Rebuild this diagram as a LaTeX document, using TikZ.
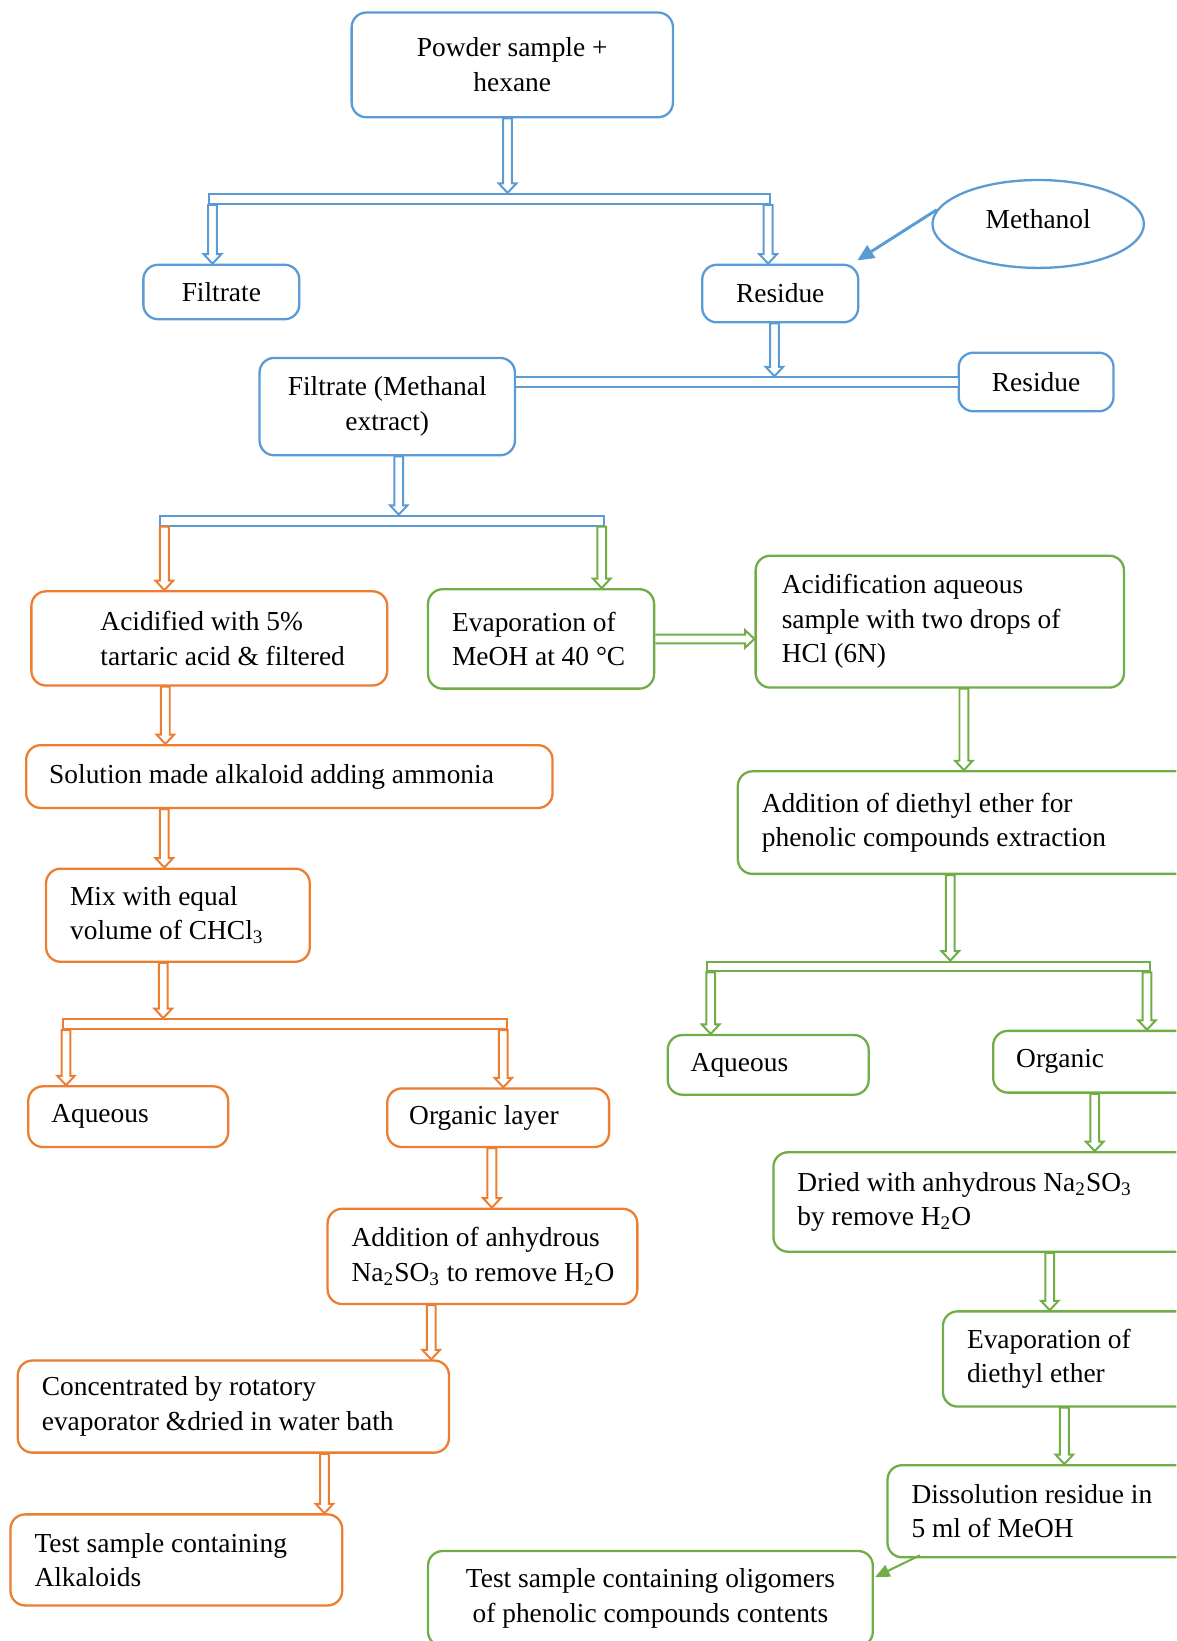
\documentclass[tikz,border=0pt]{standalone}
\usepackage{fontspec}
\setmainfont{Liberation Serif}
\usetikzlibrary{calc,shapes.geometric,arrows.meta}
\definecolor{cblue}{HTML}{5B9BD5}
\definecolor{corange}{HTML}{ED7D31}
\definecolor{cgreen}{HTML}{70AD47}
% hollow block arrow, downward: x and start y from #2, end y from #3
\newcommand\darr[3]{\draw[harr,#1] let \p1=#2, \p2=#3 in
  (\x1-2.1pt,\y1) -- (\x1-2.1pt,\y2+4.5pt) -- (\x1-4.2pt,\y2+4.5pt) -- (\x1,\y2)
  -- (\x1+4.2pt,\y2+4.5pt) -- (\x1+2.1pt,\y2+4.5pt) -- (\x1+2.1pt,\y1) -- cycle;}
% hollow block arrow, rightward: y and start x from #2, end x from #3
\newcommand\rarr[3]{\draw[harr,#1] let \p1=#2, \p2=#3 in
  (\x1,\y1+2.1pt) -- (\x2-4.5pt,\y1+2.1pt) -- (\x2-4.5pt,\y1+4.2pt) -- (\x2,\y1)
  -- (\x2-4.5pt,\y1-4.2pt) -- (\x2-4.5pt,\y1-2.1pt) -- (\x1,\y1-2.1pt);}
% text blocks: left aligned with indent, and centred
\newcommand\lbox[3]{\parbox[c]{#1}{\raggedright\leftskip=#2\relax #3}}
\newcommand\cbox[2]{\parbox[c]{#1}{\centering #2}}
\begin{document}
\begin{tikzpicture}[x=0.5pt,y=-0.5pt,
  every node/.style={font=\fontsize{13.1}{16.5}\selectfont},
  corners/.style n args={4}{minimum width={(#3-#1)*0.5pt}, minimum height={(#4-#2)*0.5pt},
    at={({(#1+#3)/2},{(#2+#4)/2})}, anchor=center},
  box/.style={draw, rounded corners=7pt, line width=1.1pt, inner sep=0pt},
  bar/.style={draw, line width=0.95pt, inner sep=0pt},
  harr/.style={line width=0.95pt, line join=miter},
  dline/.style={line width=0.95pt, double, double distance=3.8pt}]
\useasboundingbox (0,0) rectangle (1124,1568);
\clip (0,0) rectangle (1124,1568);

% ---------------- blue part ----------------
\node[box, draw=cblue, corners={336}{12}{643}{112}] (pow) {\cbox{145pt}{Powder sample +\\hexane}};
\node[bar, draw=cblue, corners={200}{185.25}{736}{194.75}] (bar1) {};
\node[box, draw=cblue, corners={137}{253}{286}{305}] (filt1) {Filtrate};
\node[box, draw=cblue, corners={671}{253}{820}{308}] (res1) {Residue};
\node[ellipse, draw=cblue, line width=1.1pt, minimum width=101pt, minimum height=42pt, inner sep=0pt] (meth) at (992,214) {\raisebox{2.5pt}[\height][\depth]{Methanol}};
\node[box, draw=cblue, corners={916}{337}{1064}{393}] (res2) {Residue};
\node[box, draw=cblue, corners={248}{342}{492}{435}] (filt2) {\cbox{115pt}{Filtrate (Methanal\\extract)}};
\node[bar, draw=cblue, corners={153}{492.75}{577}{502.25}] (bar2) {};

\darr{cblue}{($(pow.south)+(-4.5,0)$)}{(bar1.north)}
\darr{cblue}{($(bar1.south west)+(4,0)$)}{(filt1.north)}
\darr{cblue}{($(bar1.south east)+(-3,0)$)}{(res1.north)}
\draw[cblue, line width=1.4pt, -{Triangle[length=8pt,width=7pt]}] (meth.172) -- ($(res1.north east)+(-2,-3)$);
\darr{cblue}{($(res1.south)+(-5.5,0)$)}{($(res2.west)+(0,-5.5)$)}
\draw[cblue, dline] (filt2.east |- res2.west) -- (res2.west);
\darr{cblue}{($(filt2.south)+(11,0)$)}{(bar2.north)}

% ---------------- orange part ----------------
\node[box, draw=corange, corners={30}{565}{370}{655}] (o1) {\lbox{160pt}{28pt}{Acidified with 5\%\\tartaric acid \& filtered}};
\node[box, draw=corange, corners={25}{712}{528}{772}] (o2) {\lbox{241.5pt}{6pt}{Solution made alkaloid adding ammonia}};
\node[box, draw=corange, corners={44}{830}{296}{919}] (o3) {\lbox{116pt}{6.5pt}{Mix with equal\\volume of CHCl\textsubscript{3}}};
\node[bar, draw=corange, corners={60}{973.75}{484}{983.25}] (bar3) {};
\node[box, draw=corange, corners={27}{1038}{218}{1096}] (o4) {\lbox{85.5pt}{6pt}{Aqueous}};
\node[box, draw=corange, corners={370}{1040}{582}{1096}] (o5) {\lbox{96pt}{5.5pt}{Organic layer}};
\node[box, draw=corange, corners={313}{1155}{609}{1246}] (o6) {\lbox{138pt}{6.5pt}{Addition of anhydrous\\Na\textsubscript{2}SO\textsubscript{3} to remove H\textsubscript{2}O}};
\node[box, draw=corange, corners={17}{1300}{429}{1388}] (o7) {\lbox{196pt}{6.5pt}{Concentrated by rotatory\\evaporator \&dried in water bath}};
\node[box, draw=corange, corners={10}{1447}{327}{1534}] (o8) {\lbox{148.5pt}{6.5pt}{Test sample containing\\Alkaloids}};

\darr{corange}{($(bar2.south west)+(5,0)$)}{(o1.north)}
\darr{corange}{($(o1.south)+(-42,0)$)}{(o2.north)}
\darr{corange}{($(o2.south)+(-119.5,0)$)}{(o3.north)}
\darr{corange}{($(o3.south)+(-14,0)$)}{(bar3.north)}
\darr{corange}{($(bar3.south west)+(4,0)$)}{(o4.north)}
\darr{corange}{($(bar3.south east)+(-4,0)$)}{(o5.north)}
\darr{corange}{($(o5.south)+(-6,0)$)}{(o6.north)}
\darr{corange}{($(o6.south)+(-49,0)$)}{(o7.north)}
\darr{corange}{($(o7.south)+(87,0)$)}{(o8.north)}

% ---------------- green part ----------------
\node[box, draw=cgreen, corners={409}{563}{625}{658}] (g1) {\lbox{98pt}{6.5pt}{Evaporation of\\MeOH at 40 °C}};
\node[box, draw=cgreen, corners={722}{531}{1074}{657}] (g2) {\lbox{166pt}{7.5pt}{Acidification aqueous\\sample with two drops of\\HCl (6N)}};
\node[box, draw=cgreen, corners={705}{737}{1140}{835}] (g3) {\lbox{207.5pt}{6.5pt}{Addition of diethyl ether for\\phenolic compounds extraction}};
\node[bar, draw=cgreen, corners={676}{918.75}{1099}{928.25}] (bar4) {};
\node[box, draw=cgreen, corners={638}{989}{830}{1046}] (g4) {\lbox{86pt}{6pt}{Aqueous}};
\node[box, draw=cgreen, corners={949}{985}{1140}{1044}] (g5) {\lbox{85.5pt}{6pt}{Organic}};
\node[box, draw=cgreen, corners={739}{1101}{1140}{1196}] (g6) {\lbox{190.5pt}{6.5pt}{Dried with anhydrous Na\textsubscript{2}SO\textsubscript{3}\\by remove H\textsubscript{2}O}};
\node[box, draw=cgreen, corners={901}{1253}{1140}{1344}] (g7) {\lbox{109.5pt}{6.5pt}{Evaporation of\\diethyl ether}};
\node[box, draw=cgreen, corners={848}{1400}{1140}{1488}] (g8) {\lbox{136pt}{6.5pt}{Dissolution residue in\\5 ml of MeOH}};
\node[box, draw=cgreen, corners={409}{1482}{834}{1573}] (g9) {\cbox{205pt}{Test sample containing oligomers\\of phenolic compounds contents}};

\darr{cgreen}{($(bar2.south east)+(-3,0)$)}{(g1.north)}
\rarr{cgreen}{(g1.east)}{(g2.west)}
\darr{cgreen}{($(g2.south)+(23,0)$)}{(g3.north)}
\darr{cgreen}{($(g3.south)+(-14.5,0)$)}{(bar4.north)}
\darr{cgreen}{($(bar4.south west)+(4,0)$)}{(g4.north)}
\darr{cgreen}{($(bar4.south east)+(-4,0)$)}{(g5.north)}
\darr{cgreen}{($(g5.south)+(1.5,0)$)}{(g6.north)}
\darr{cgreen}{($(g6.south)+(63.5,0)$)}{(g7.north)}
\darr{cgreen}{($(g7.south)+(-3.5,0)$)}{(g8.north)}
\draw[cgreen, line width=1pt, -{Triangle[length=7pt,width=6pt]}] ($(g8.south west)+(32,-3)$) -- ($(g9.east)+(1,-20.5)$);
\end{tikzpicture}
\end{document}
